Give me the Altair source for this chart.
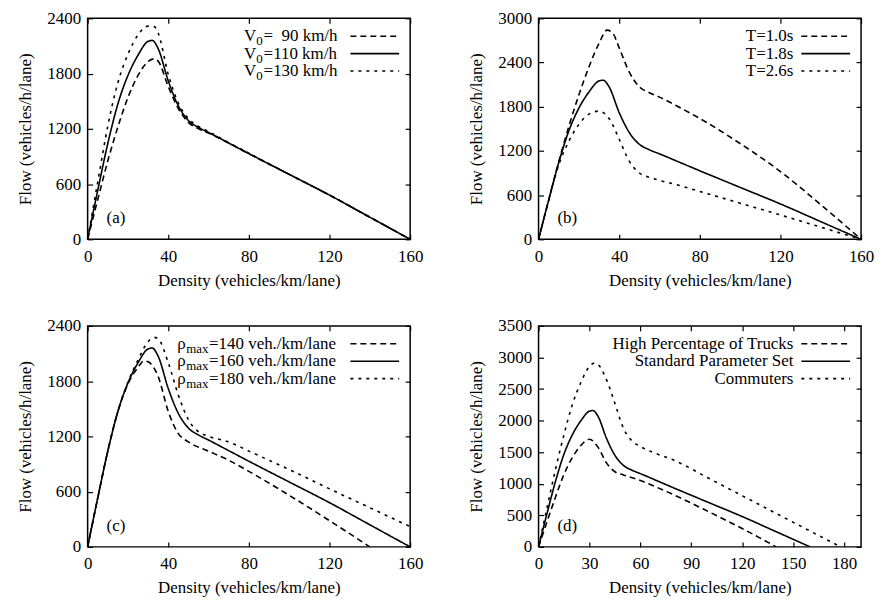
import altair as alt
import pandas as pd

FONT = "Liberation Serif"

# ---------------- data ----------------
# standard parameter set (solid line, present in every panel)
std_d = [0, 5, 10, 15, 20, 25, 30, 32, 35, 40, 45, 50, 55, 60, 70, 80, 100, 120, 140, 160]
std_q = [0, 530, 1040, 1470, 1780, 2000, 2150, 2160, 2070, 1720, 1450, 1290, 1215, 1160, 1045, 930, 705, 480, 240, 0]

# panel (a): desired speed V0
a90_d = [0, 5, 10, 15, 20, 25, 30, 33, 35, 40, 45, 50, 55, 60, 70, 80, 100, 120, 140, 160]
a90_q = [0, 430, 850, 1220, 1540, 1780, 1930, 1960, 1935, 1660, 1420, 1270, 1200, 1155, 1045, 930, 705, 480, 240, 0]
a130_d = [0, 5, 10, 15, 20, 25, 30, 33, 35, 40, 45, 50, 55, 60, 70, 80, 100, 120, 140, 160]
a130_q = [0, 620, 1230, 1700, 2010, 2220, 2315, 2310, 2240, 1790, 1480, 1310, 1225, 1170, 1050, 935, 705, 480, 240, 0]

# panel (b): time gap T
b10_d = [0, 5, 10, 15, 20, 25, 30, 34, 37, 40, 45, 50, 55, 60, 70, 80, 100, 120, 140, 160]
b10_q = [0, 530, 1050, 1530, 1960, 2340, 2660, 2840, 2790, 2600, 2270, 2070, 1990, 1930, 1790, 1640, 1300, 920, 470, 0]
b26_d = [0, 5, 10, 15, 20, 25, 30, 35, 40, 45, 50, 55, 60, 70, 80, 100, 120, 140, 160]
b26_q = [0, 525, 1010, 1330, 1560, 1700, 1740, 1640, 1360, 1060, 900, 840, 800, 730, 650, 490, 330, 165, 0]

# panel (c): maximum density
c140_d = [0, 5, 10, 15, 20, 25, 28, 30, 35, 40, 45, 50, 60, 70, 80, 100, 120, 140]
c140_q = [0, 530, 1040, 1470, 1770, 1950, 2020, 2010, 1850, 1470, 1230, 1140, 1040, 940, 820, 560, 285, 0]
c180_d = [0, 5, 10, 15, 20, 25, 30, 33, 35, 40, 45, 50, 55, 60, 70, 80, 100, 120, 140, 160]
c180_q = [0, 530, 1040, 1470, 1790, 2030, 2230, 2275, 2260, 2000, 1650, 1380, 1250, 1200, 1140, 1040, 840, 630, 425, 220]

# panel (d): driver populations
dtr_d = [0, 5, 10, 15, 20, 25, 30, 35, 40, 45, 50, 60, 70, 80, 100, 120, 140]
dtr_q = [0, 400, 790, 1150, 1420, 1610, 1705, 1580, 1330, 1190, 1140, 1050, 940, 820, 560, 290, 0]
dco_d = [0, 5, 10, 15, 20, 25, 30, 33, 35, 40, 45, 50, 55, 60, 70, 80, 100, 120, 140, 160, 178]
dco_q = [0, 620, 1230, 1780, 2260, 2610, 2860, 2910, 2890, 2650, 2270, 1880, 1680, 1590, 1470, 1370, 1090, 810, 530, 250, 0]

STYLES = ["dashed", "solid", "dotted"]
DASHES = [[6, 4], [1, 0], [3, 5]]

W, H = 324, 222
NB = "\u00a0"


def frame(series):
    rows = []
    for style, (xs, ys) in zip(STYLES, series):
        for x, y in zip(xs, ys):
            rows.append({"x": x, "y": y, "s": style})
    return pd.DataFrame(rows)


def one():
    return pd.DataFrame({"k": [0]})


def panel(series, xdom, xticks, ydom, yticks, letter, legend):
    df = frame(series)
    xs = alt.Scale(domain=xdom, nice=False, zero=False)
    ys = alt.Scale(domain=ydom, nice=False, zero=False)
    common = dict(tickSize=5, offset=-5, domain=False, grid=False, tickColor="black", tickWidth=1.2,
                  labelFont=FONT, titleFont=FONT, labelFontSize=17, titleFontSize=17,
                  titleFontWeight="normal", labelColor="black", titleColor="black", format="d")
    lines = alt.Chart(df).mark_line(color="black", strokeWidth=1.6, interpolate="monotone", clip=True).encode(
        x=alt.X("x:Q", scale=xs, axis=alt.Axis(orient="bottom", values=xticks, title="Density (vehicles/km/lane)",
                                                labelFlush=False, labelOverlap=False, labelPadding=9,
                                                titlePadding=8, **common)),
        y=alt.Y("y:Q", scale=ys, axis=alt.Axis(orient="left", values=yticks, title="Flow (vehicles/h/lane)",
                                                labelPadding=7, titlePadding=12, labelOverlap=False, **common)),
        strokeDash=alt.StrokeDash("s:N", scale=alt.Scale(domain=STYLES, range=DASHES), legend=None),
    )
    mirror = alt.Chart(df).mark_line(opacity=0, clip=True).encode(
        x=alt.X("x:Q", axis=alt.Axis(orient="top", values=xticks, labels=False, title=None, **common)),
        y=alt.Y("y:Q", axis=alt.Axis(orient="right", values=yticks, labels=False, title=None, **common)),
        detail="s:N",
    )
    layers = [lines, mirror]
    layers.append(alt.Chart(one()).mark_text(align="left", baseline="middle", font=FONT, fontSize=17, color="black").encode(
        x=alt.value(19), y=alt.value(H - 21), text=alt.value(letter)))
    rows_y = [18, 35.5, 53]
    for (lab, dash), ry in zip(legend, rows_y):
        layers.append(alt.Chart(one()).mark_rule(color="black", strokeWidth=1.6, strokeDash=dash).encode(
            x=alt.value(W - 60), x2=alt.value(W - 11), y=alt.value(ry)))
        if isinstance(lab, tuple):
            main, sub, rest, x0, wmain, wsub = lab
            layers.append(alt.Chart(one()).mark_text(align="left", baseline="middle", font=FONT, fontSize=17, color="black").encode(
                x=alt.value(W - x0), y=alt.value(ry), text=alt.value(main)))
            layers.append(alt.Chart(one()).mark_text(align="left", baseline="middle", font=FONT, fontSize=13, color="black").encode(
                x=alt.value(W - x0 + wmain), y=alt.value(ry + 5), text=alt.value(sub)))
            layers.append(alt.Chart(one()).mark_text(align="left", baseline="middle", font=FONT, fontSize=17, color="black").encode(
                x=alt.value(W - x0 + wmain + wsub), y=alt.value(ry), text=alt.value(rest)))
        else:
            layers.append(alt.Chart(one()).mark_text(align="right", baseline="middle", font=FONT, fontSize=17, color="black").encode(
                x=alt.value(W - 68), y=alt.value(ry), text=alt.value(lab)))
    return alt.layer(*layers).resolve_axis(x="independent", y="independent").properties(width=W, height=H)


xt160 = [0, 40, 80, 120, 160]
leg_a = [("V", "0", "=" + NB + NB + "90 km/h", 167, 12.3, 7.5), ("V", "0", "=110 km/h", 167, 12.3, 7.5),
         ("V", "0", "=130 km/h", 167, 12.3, 7.5)]
leg_c = [("ρ", "max", "=140 veh./km/lane", 234, 9, 23), ("ρ", "max", "=160 veh./km/lane", 234, 9, 23),
         ("ρ", "max", "=180 veh./km/lane", 234, 9, 23)]
leg_b = ["T=1.0s", "T=1.8s", "T=2.6s"]
leg_d = ["High Percentage of Trucks", "Standard Parameter Set", "Commuters"]

pa = panel([(a90_d, a90_q), (std_d, std_q), (a130_d, a130_q)], [0, 160], xt160, [0, 2400], [0, 600, 1200, 1800, 2400],
           "(a)", list(zip(leg_a, DASHES)))
pb = panel([(b10_d, b10_q), (std_d, std_q), (b26_d, b26_q)], [0, 160], xt160, [0, 3000], [0, 600, 1200, 1800, 2400, 3000],
           "(b)", list(zip(leg_b, DASHES)))
pc = panel([(c140_d, c140_q), (std_d, std_q), (c180_d, c180_q)], [0, 160], xt160, [0, 2400], [0, 600, 1200, 1800, 2400],
           "(c)", list(zip(leg_c, DASHES)))
pd_ = panel([(dtr_d, dtr_q), (std_d, std_q), (dco_d, dco_q)], [0, 190], [0, 30, 60, 90, 120, 150, 180], [0, 3500],
            [0, 500, 1000, 1500, 2000, 2500, 3000, 3500], "(d)", list(zip(leg_d, DASHES)))

chart = alt.vconcat(
    alt.hconcat(pa, pb, spacing=43),
    alt.hconcat(pc, pd_, spacing=43),
    spacing=27,
).properties(
    padding={"left": 8, "top": -1, "right": 0, "bottom": 0}, background="white"
).configure_axis(
    labelFont=FONT, titleFont=FONT, labelFontSize=17, titleFontSize=17, titleFontWeight="normal",
    labelColor="black", titleColor="black",
).configure_view(stroke="black", strokeWidth=1.5)

chart.save("out.html", embed_options={"renderer": "svg", "actions": False})
